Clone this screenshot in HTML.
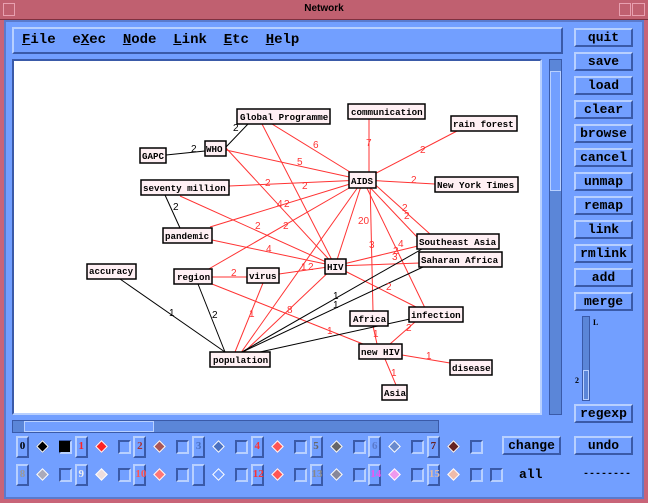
<!DOCTYPE html>
<html><head><meta charset="utf-8"><style>
*{margin:0;padding:0;box-sizing:border-box}
body{width:648px;height:503px;background:#c86478;position:relative;overflow:hidden;font-family:"Liberation Mono",monospace}
.abs{position:absolute}
.win{left:4px;top:20px;width:640px;height:479px;background:#729fff;border:2px solid #5a7acc}
.rb{position:absolute;background:#729fff;border:2px solid;border-color:#b8d0ff #3a5aa8 #3a5aa8 #b8d0ff;font:bold 13px "Liberation Mono",monospace;color:#000;text-align:center;line-height:15px}
.btn{left:574px;width:59px;height:19px}
.pb{position:absolute;width:13px;height:22px;background:#729fff;border:2px solid;border-color:#b8d0ff #3a5aa8 #3a5aa8 #b8d0ff;font:bold 11px "Liberation Serif",serif;text-align:center;line-height:17px}
.sq{position:absolute;width:13px;height:14px;border:2px solid;border-color:#3a5aa8 #b8d0ff #b8d0ff #3a5aa8;background:#729fff}
.dm{position:absolute;width:9px;height:9px;transform:rotate(45deg);border:1px solid #fff}
</style></head><body>
<div class="abs" style="left:0;top:0;width:648px;height:20px;background:#c06070;border-bottom:1px solid #80303f"></div>
<div class="abs" style="left:0;top:3px;width:648px;text-align:center;font:bold 10px 'Liberation Sans',sans-serif;color:#000">Network</div>
<div class="abs" style="left:3px;top:3px;width:12px;height:13px;border:1px solid #e8a0b0"></div>
<div class="abs" style="left:619px;top:3px;width:12px;height:13px;border:1px solid #e8a0b0"></div>
<div class="abs" style="left:632px;top:3px;width:13px;height:13px;border:1px solid #e8a0b0"></div>
<div class="abs win"></div>
<div class="abs" style="left:12px;top:27px;width:551px;height:27px;border:2px solid;border-color:#b8d0ff #3a5aa8 #3a5aa8 #b8d0ff"></div>
<div class="abs" style="left:22px;top:32px;font:bold 14px 'Liberation Mono',monospace;white-space:pre"><u>F</u>ile  e<u>X</u>ec  <u>N</u>ode  <u>L</u>ink  <u>E</u>tc  <u>H</u>elp</div>
<div class="abs" style="left:12px;top:59px;width:530px;height:356px;background:#fff;border:2px solid;border-color:#3a5aa8 #b8d0ff #b8d0ff #3a5aa8"></div>
<div class="abs" style="left:549px;top:59px;width:13px;height:356px;background:#5b86d8;border:1px solid #3a5aa8"></div>
<div class="abs" style="left:550px;top:71px;width:11px;height:120px;background:#729fff;border:1px solid #b8d0ff"></div>
<div class="abs" style="left:12px;top:420px;width:427px;height:13px;background:#5b86d8;border:1px solid #3a5aa8"></div>
<div class="abs" style="left:24px;top:421px;width:130px;height:11px;background:#729fff;border:1px solid #b8d0ff"></div>
<svg class="abs" style="left:0;top:0" width="648" height="503" font-family="Liberation Mono, monospace" font-size="10">
<g stroke="#f33" stroke-width="1">
<line x1="363" y1="180" x2="272" y2="124"/><line x1="369" y1="180" x2="369" y2="119"/><line x1="363" y1="180" x2="457" y2="131"/>
<line x1="363" y1="180" x2="435" y2="184"/><line x1="363" y1="180" x2="229" y2="186"/><line x1="363" y1="180" x2="226" y2="150"/>
<line x1="363" y1="180" x2="210" y2="227"/><line x1="363" y1="180" x2="207" y2="270"/><line x1="363" y1="180" x2="335" y2="266"/>
<line x1="363" y1="180" x2="240" y2="354"/><line x1="370" y1="180" x2="373" y2="311"/><line x1="363" y1="180" x2="425" y2="308"/>
<line x1="363" y1="180" x2="417" y2="237"/><line x1="370" y1="180" x2="430" y2="234"/>
<line x1="335" y1="266" x2="226" y2="148"/><line x1="335" y1="266" x2="262" y2="124"/><line x1="335" y1="266" x2="180" y2="196"/>
<line x1="335" y1="266" x2="212" y2="240"/><line x1="335" y1="266" x2="279" y2="274"/><line x1="335" y1="266" x2="242" y2="354"/>
<line x1="335" y1="266" x2="418" y2="246"/><line x1="335" y1="266" x2="420" y2="263"/><line x1="335" y1="266" x2="420" y2="309"/>
<line x1="212" y1="277" x2="247" y2="277"/><line x1="212" y1="284" x2="363" y2="344"/><line x1="263" y1="283" x2="235" y2="352"/>
<line x1="415" y1="322" x2="390" y2="344"/><line x1="373" y1="326" x2="377" y2="344"/><line x1="402" y1="355" x2="450" y2="363"/>
<line x1="385" y1="359" x2="396" y2="385"/>
</g>
<g stroke="#000" stroke-width="1">
<line x1="166" y1="155" x2="205" y2="151"/><line x1="226" y1="147" x2="248" y2="124"/><line x1="165" y1="195" x2="180" y2="228"/>
<line x1="120" y1="279" x2="225" y2="352"/><line x1="198" y1="284" x2="225" y2="352"/><line x1="240" y1="353" x2="422" y2="249"/>
<line x1="240" y1="353" x2="423" y2="267"/><line x1="260" y1="352" x2="410" y2="319"/>
</g>
<g fill="#f33" font-family="Liberation Sans, sans-serif">
<text x="313" y="148">6</text><text x="366" y="146">7</text><text x="420" y="153">2</text><text x="297" y="165">5</text>
<text x="411" y="183">2</text><text x="265" y="186">2</text><text x="302" y="189">2</text><text x="277" y="207">4</text><text x="284" y="207">2</text>
<text x="255" y="229">2</text><text x="283" y="229">2</text><text x="358" y="224">20</text><text x="402" y="211">2</text><text x="404" y="219">2</text>
<text x="266" y="252">4</text><text x="398" y="247">4</text><text x="369" y="248">3</text><text x="392" y="260">3</text><text x="393" y="254">2</text>
<text x="231" y="276">2</text><text x="301" y="270">1</text><text x="308" y="270">2</text><text x="386" y="290">2</text>
<text x="249" y="317">1</text><text x="287" y="313">8</text><text x="327" y="334">1</text><text x="406" y="331">2</text><text x="373" y="337">1</text>
<text x="426" y="359">1</text><text x="391" y="376">1</text>
</g>
<g fill="#000" font-family="Liberation Sans, sans-serif">
<text x="191" y="152">2</text><text x="233" y="131">2</text><text x="173" y="210">2</text><text x="169" y="316">1</text><text x="212" y="318">2</text>
<text x="333" y="299">1</text><text x="333" y="308">1</text>
</g>
<g fill="#fff0f4" stroke="#000" stroke-width="1.5">
<rect x="237" y="109" width="93" height="15"/><rect x="348" y="104" width="77" height="15"/><rect x="451" y="116" width="66" height="15"/>
<rect x="140" y="148" width="26" height="15"/><rect x="205" y="141" width="21" height="15"/><rect x="349" y="172" width="27" height="16"/>
<rect x="435" y="177" width="83" height="15"/><rect x="141" y="180" width="88" height="15"/><rect x="163" y="228" width="49" height="15"/>
<rect x="417" y="234" width="82" height="15"/><rect x="419" y="252" width="83" height="15"/><rect x="325" y="259" width="21" height="15"/>
<rect x="87" y="264" width="49" height="15"/><rect x="174" y="269" width="38" height="15"/><rect x="247" y="268" width="32" height="15"/>
<rect x="350" y="311" width="38" height="15"/><rect x="409" y="307" width="54" height="15"/><rect x="359" y="344" width="43" height="15"/>
<rect x="450" y="360" width="42" height="15"/><rect x="210" y="352" width="60" height="15"/><rect x="382" y="385" width="25" height="15"/>
</g>
<g fill="#000" font-weight="bold" font-size="9.2">
<text x="240" y="120">Global Programme</text><text x="351" y="115">communication</text><text x="453" y="127">rain forest</text>
<text x="142" y="159">GAPC</text><text x="206" y="152">WHO</text><text x="351" y="184">AIDS</text><text x="437" y="188">New York Times</text>
<text x="143" y="191">seventy million</text><text x="165" y="239">pandemic</text><text x="419" y="245">Southeast Asia</text>
<text x="421" y="263">Saharan Africa</text><text x="327" y="270">HIV</text><text x="89" y="274">accuracy</text><text x="177" y="280">region</text>
<text x="249" y="279">virus</text><text x="353" y="322">Africa</text><text x="411" y="318">infection</text><text x="361" y="355">new HIV</text>
<text x="452" y="371">disease</text><text x="213" y="363">population</text><text x="384" y="396">Asia</text>
</g>
</svg>
<div class="rb btn" style="top:28px">quit</div>
<div class="rb btn" style="top:52px">save</div>
<div class="rb btn" style="top:76px">load</div>
<div class="rb btn" style="top:100px">clear</div>
<div class="rb btn" style="top:124px">browse</div>
<div class="rb btn" style="top:148px">cancel</div>
<div class="rb btn" style="top:172px">unmap</div>
<div class="rb btn" style="top:196px">remap</div>
<div class="rb btn" style="top:220px">link</div>
<div class="rb btn" style="top:244px">rmlink</div>
<div class="rb btn" style="top:268px">add</div>
<div class="rb btn" style="top:292px">merge</div>
<div class="abs" style="left:582px;top:316px;width:8px;height:85px;background:#5b86d8;border:1px solid #3a5aa8"></div>
<div class="abs" style="left:583px;top:370px;width:6px;height:30px;border:1px solid #b8d0ff"></div>
<div class="abs" style="left:593px;top:318px;font:bold 8px 'Liberation Serif',serif">L</div>
<div class="abs" style="left:575px;top:376px;font:bold 8px 'Liberation Serif',serif">2</div>
<div class="rb btn" style="top:404px">regexp</div>
<div class="rb" style="left:502px;top:436px;width:59px;height:19px">change</div>
<div class="rb btn" style="top:436px">undo</div>
<div class="abs" style="left:519px;top:467px;font:bold 13px 'Liberation Mono',monospace">all</div>
<div class="abs" style="left:583px;top:469px;font:bold 10px 'Liberation Mono',monospace">--------</div>
<div id="pal"></div>
<script>
var c1=[["0","#000","#000"],["1","#f22","#f22"],["2","#a33","#a55"],["3","#4a70c0","#4a70c0"],["4","#f33","#f55"],["5","#666","#666"],["6","#5a7acc","#6a8acc"],["7","#622","#622"]];
var c2=[["8","#999","#aab"],["9","#eee","#edd"],["10","#f55","#f77"],["","#729fff","#729fff"],["12","#f33","#f55"],["13","#888","#889"],["14","#e5e","#e9e"],["15","#dba","#eba"]];
var h="";
function row(a,y){for(var i=0;i<8;i++){var x=16+i*58.7;h+='<div class="pb" style="left:'+x+'px;top:'+y+'px;color:'+a[i][1]+'">'+a[i][0]+'</div>';
h+='<div class="dm" style="left:'+(x+22)+'px;top:'+(y+6)+'px;background:'+a[i][2]+'"></div>';
h+='<div class="sq" style="left:'+(x+43)+'px;top:'+(y+4)+'px"></div>';}}
row(c1,436);row(c2,464);
h+='<div class="abs" style="left:59px;top:441px;width:11px;height:11px;background:#000"></div>';
h+='<div class="sq" style="left:490px;top:468px"></div>';
document.getElementById("pal").innerHTML=h;
</script>
</body></html>
